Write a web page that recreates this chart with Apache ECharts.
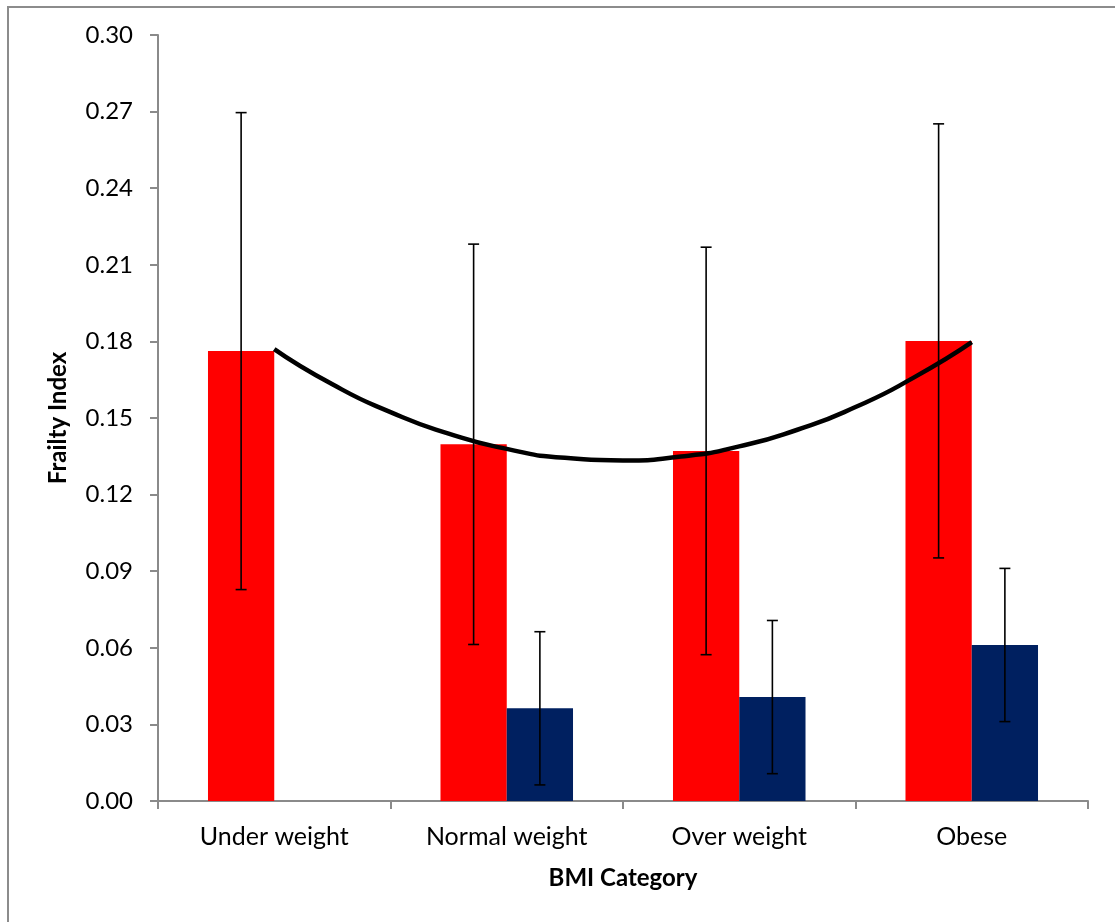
<!DOCTYPE html>
<html>
<head>
<meta charset="utf-8">
<script src="https://cdn.jsdelivr.net/npm/echarts@6/dist/echarts.min.js"></script>
<style>
html,body{margin:0;padding:0;background:#fff;}
#chart{width:1115px;height:922px;}
</style>
</head>
<body>
<div id="chart"></div>
<script>
// ---- data ----
const categories = ['Under weight', 'Normal weight', 'Over weight', 'Obese'];
const redValues  = [0.1762, 0.1397, 0.1371, 0.1802];
const redErr     = [0.0934, 0.0784, 0.0798, 0.0850];
const blueValues = [null, 0.0363, 0.0407, 0.0611];
const blueErr    = [null, 0.0300, 0.0300, 0.0300];
// polynomial trend curve (x = category position 1..4)
const trendX = [1, 1.25, 1.5, 1.75, 2, 2.25, 2.5, 2.75, 3, 3.25, 3.5, 3.75, 4];
const trendY = [0.1770, 0.1632, 0.1523, 0.1439, 0.1379, 0.1344, 0.1334, 0.1349, 0.1389, 0.1454, 0.1543, 0.1658, 0.1797];
const yTicks = {min: 0, max: 0.30, interval: 0.03};

const GAP = 0.43; // barCategoryGap fraction

function errData(vals, errs) {
  return vals.map((v, i) => (v == null ? [i, null, null] : [i, v - errs[i], v + errs[i]]))
             .filter(d => d[1] != null);
}

function makeErrRender(side) {
  return function (params, api) {
    const idx = api.value(0);
    const lo = api.coord([idx, api.value(1)]);
    const hi = api.coord([idx, api.value(2)]);
    const band = api.size([1, 0])[0];
    const barW = band * (1 - GAP) / 2;
    const x = lo[0] + side * barW / 2;
    const cap = 5.5;
    const style = {stroke: '#000', lineWidth: 1.6};
    return {
      type: 'group',
      children: [
        {type: 'line', shape: {x1: x, y1: lo[1], x2: x, y2: hi[1]}, style: style},
        {type: 'line', shape: {x1: x - cap, y1: lo[1], x2: x + cap, y2: lo[1]}, style: style},
        {type: 'line', shape: {x1: x - cap, y1: hi[1], x2: x + cap, y2: hi[1]}, style: style}
      ]
    };
  };
}

const chart = echarts.init(document.getElementById('chart'), null, {renderer: 'canvas'});
const axisGray = '#8a8a8a';
chart.setOption({
  animation: false,
  backgroundColor: '#fff',
  textStyle: {fontFamily: 'Lato'},
  graphic: [{
    type: 'polyline',
    shape: {points: [[8, 922], [8, 7], [1115, 7]]},
    style: {stroke: '#8c8c8c', lineWidth: 2, fill: null},
    silent: true
  }],
  grid: {left: 158, right: 27, top: 35, bottom: 121, containLabel: false},
  xAxis: [{
    type: 'category',
    data: categories,
    name: 'BMI Category',
    nameLocation: 'middle',
    nameGap: 65,
    nameTextStyle: {fontFamily: 'Lato', fontWeight: 'bold', fontSize: 24, color: '#000', verticalAlign: 'top'},
    axisLine: {lineStyle: {color: axisGray, width: 2}},
    axisTick: {show: true, length: 8, lineStyle: {color: axisGray, width: 2}},
    axisLabel: {fontFamily: 'Lato', fontSize: 25, color: '#000', margin: 23},
    splitLine: {show: false}
  }, {
    type: 'value',
    min: 0.5,
    max: 4.5,
    show: false
  }],
  yAxis: {
    type: 'value',
    min: yTicks.min,
    max: yTicks.max,
    interval: yTicks.interval,
    name: 'Frailty Index',
    nameLocation: 'middle',
    nameGap: 88,
    nameRotate: 90,
    nameTextStyle: {fontFamily: 'Lato', fontWeight: 'bold', fontSize: 24, color: '#000'},
    axisLine: {show: true, lineStyle: {color: axisGray, width: 2}},
    axisTick: {show: true, length: 8, lineStyle: {color: axisGray, width: 2}},
    axisLabel: {fontFamily: 'Lato', fontSize: 24, color: '#000', margin: 25, formatter: v => v.toFixed(2)},
    splitLine: {show: false}
  },
  series: [
    {
      name: 'red', type: 'bar', data: redValues, xAxisIndex: 0,
      itemStyle: {color: '#ff0000'}, barGap: '0%', barCategoryGap: (GAP * 100) + '%', z: 2
    },
    {
      name: 'blue', type: 'bar', data: blueValues, xAxisIndex: 0,
      itemStyle: {color: '#002060'}, barGap: '0%', barCategoryGap: (GAP * 100) + '%', z: 2
    },
    {
      name: 'trend', type: 'line', xAxisIndex: 1, yAxisIndex: 0,
      data: trendX.map((x, i) => [x, trendY[i]]),
      smooth: 0.6, symbol: 'none',
      lineStyle: {color: '#000', width: 4.5}, z: 3
    },
    {
      name: 'errRed', type: 'custom', xAxisIndex: 0, yAxisIndex: 0,
      data: errData(redValues, redErr),
      encode: {x: 0, y: [1, 2]},
      renderItem: makeErrRender(-1), z: 4
    },
    {
      name: 'errBlue', type: 'custom', xAxisIndex: 0, yAxisIndex: 0,
      data: errData(blueValues, blueErr),
      encode: {x: 0, y: [1, 2]},
      renderItem: makeErrRender(1), z: 4
    }
  ]
});
</script>
</body>
</html>
